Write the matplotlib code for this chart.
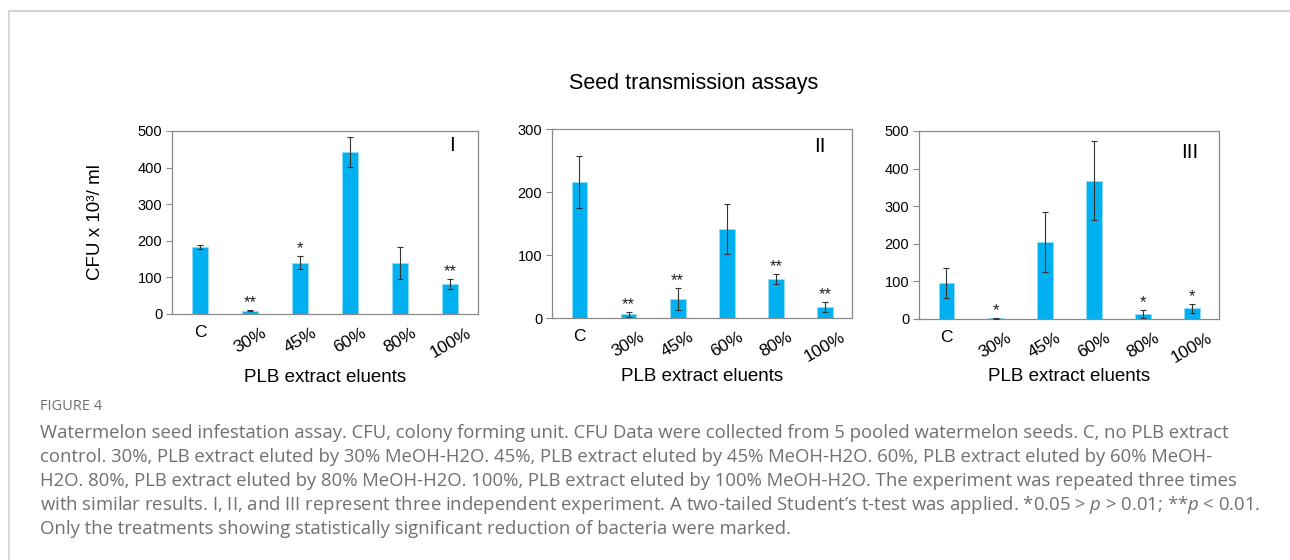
import matplotlib
matplotlib.use("Agg")
import matplotlib.pyplot as plt
from matplotlib.lines import Line2D

plt.rcParams['font.family'] = ['Liberation Sans', 'DejaVu Sans']
plt.rcParams['mathtext.fontset'] = 'custom'
plt.rcParams['mathtext.rm'] = 'Open Sans'
plt.rcParams['mathtext.it'] = 'Open Sans:italic'

# data
categories = ["C", "30%", "45%", "60%", "80%", "100%"]

exp1_vals = [183, 9, 140, 443, 140, 81]
exp1_err = [5, 2, 18, 41, 44, 14]
exp1_marks = ["", "**", "*", "", "", "**"]

exp2_vals = [216, 6, 30, 141, 62, 18]
exp2_err = [41, 4, 18, 40, 8, 8]
exp2_marks = ["", "**", "**", "", "**", "**"]

exp3_vals = [96, 2, 204, 368, 13, 28]
exp3_err = [40, 1, 80, 105, 11, 12]
exp3_marks = ["", "*", "", "", "*", "*"]

panels = [
    ("I", exp1_vals, exp1_err, exp1_marks, 500, [0.1333, 0.4393, 0.2372, 0.3268], (0.915, 0.92), 6),
    ("II", exp2_vals, exp2_err, exp2_marks, 300, [0.4279, 0.4321, 0.2326, 0.3375], (0.893, 0.91), 2.5),
    ("III", exp3_vals, exp3_err, exp3_marks, 500, [0.7124, 0.4304, 0.2326, 0.3357], (0.903, 0.888), 2),
]

bar_color = "#00B0F0"
frame_color = "#8a8a8a"

fig = plt.figure(figsize=(12.9, 5.6), dpi=100)

for name, vals, errs, marks, ymax, rect, lab_pos, xpad in panels:
    ax = fig.add_axes(rect)
    x = list(range(len(categories)))
    ax.bar(x, vals, width=0.32, color=bar_color, edgecolor="#8fdcf8", linewidth=0.6, zorder=2)
    ax.errorbar(x, vals, yerr=errs, fmt="none", ecolor="#333333", elinewidth=0.8,
                capsize=2.5, capthick=0.8, zorder=3)
    for xi, v, e, m in zip(x, vals, errs, marks):
        if m:
            ax.annotate(m, (xi, v + e), xytext=(0, 0), textcoords="offset points",
                        ha="center", va="bottom", fontsize=12, color="#222222")
    ax.set_xlim(-0.56, 5.55)
    ax.set_ylim(0, ymax)
    ax.set_yticks(range(0, ymax + 1, 100))
    ax.set_xticks(x)
    ax.set_xticklabels(categories, fontsize=12.5)
    for i, lbl in enumerate(ax.get_xticklabels()):
        if i > 0:
            lbl.set_rotation(30)
        lbl.set_ha("center")
    ax.tick_params(axis="x", length=0, pad=8)
    ax.tick_params(axis="y", length=4, width=0.8, color=frame_color, labelsize=10.5, pad=3)
    for sp in ax.spines.values():
        sp.set_color(frame_color)
        sp.set_linewidth(0.9)
    ax.text(lab_pos[0], lab_pos[1], name, transform=ax.transAxes, ha="center", va="center",
            fontsize=15)
    ax.set_xlabel("PLB extract eluents", fontsize=13.5, labelpad=xpad)
    if name == "I":
        ax.set_ylabel("CFU x 10³/ ml", fontsize=13.5, labelpad=24)

fig.text(694 / 1290, 1 - 83 / 560, "Seed transmission assays", ha="center", va="center", fontsize=15.5)

# page frame
fig.add_artist(Line2D([9 / 1290, 1.0], [1 - 10.5 / 560] * 2, transform=fig.transFigure,
                      color="#d2d2d2", lw=1.5))
fig.add_artist(Line2D([9 / 1290] * 2, [0.0, 1 - 10.5 / 560], transform=fig.transFigure,
                      color="#d2d2d2", lw=1.2))

# caption
cap_color = "#707070"
fig.text(40 / 1290, 1 - 407 / 560, "FIGURE 4", fontsize=10.5, color=cap_color, va="center",
         family="Open Sans")
caption = [
    "Watermelon seed infestation assay. CFU, colony forming unit. CFU Data were collected from 5 pooled watermelon seeds. C, no PLB extract",
    "control. 30%, PLB extract eluted by 30% MeOH-H2O. 45%, PLB extract eluted by 45% MeOH-H2O. 60%, PLB extract eluted by 60% MeOH-",
    "H2O. 80%, PLB extract eluted by 80% MeOH-H2O. 100%, PLB extract eluted by 100% MeOH-H2O. The experiment was repeated three times",
    "with similar results. I, II, and III represent three independent experiment. A two-tailed Student\u2019s t-test was applied. *0.05 > $\\mathit{p}$ > 0.01; **$\\mathit{p}$ < 0.01.",
    "Only the treatments showing statistically significant reduction of bacteria were marked.",
]
for i, line in enumerate(caption):
    fig.text(40 / 1290, 1 - (433 + 24 * i) / 560, line, fontsize=13.3, color=cap_color,
             va="center", family="Open Sans")

fig.savefig("out.png", dpi=100)
